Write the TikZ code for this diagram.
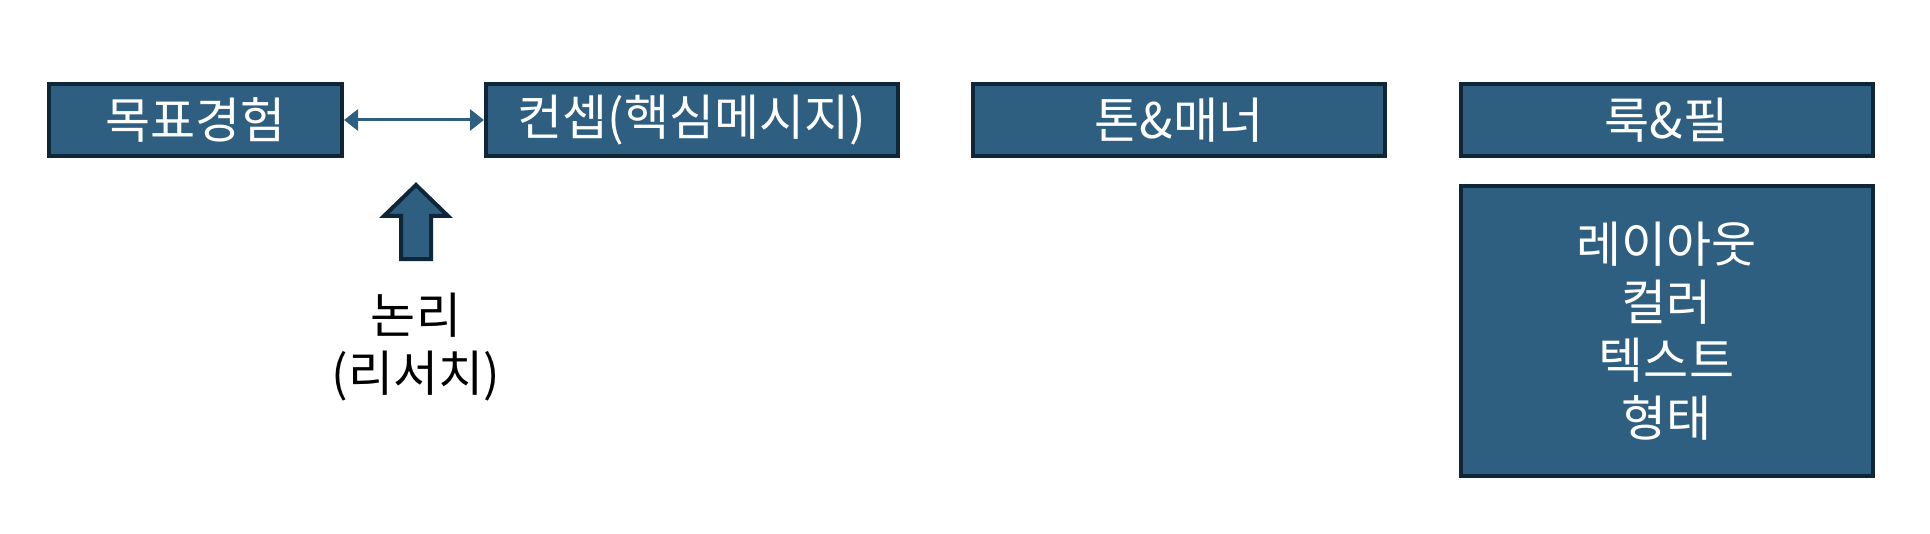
\documentclass[tikz,border=0pt]{standalone}
\usepackage{fontspec}
\setmainfont{Noto Sans CJK KR}
\usetikzlibrary{arrows.meta}

\definecolor{boxblue}{HTML}{2E5F80}
\definecolor{boxedge}{HTML}{0F2638}

\tikzset{
  stagebox/.style={draw=boxedge,line width=2pt,fill=boxblue,text=white,
    font=\fontsize{24.5}{29}\selectfont,inner sep=0pt,
    minimum width=206pt,minimum height=36pt},
  linktip/.style={{Triangle[length=7pt,width=10.5pt]}-{Triangle[length=7pt,width=10.5pt]}},
}

\begin{document}
\begin{tikzpicture}[x=0.5pt,y=-0.5pt]
  \useasboundingbox (0,0) rectangle (1930,534);
  % top row
  \node[stagebox,minimum width=146.5pt] (goal) at (195.5,120) {목표경험};
  \node[stagebox] (concept) at (692,120) {컨셉(핵심메시지)};
  \node[stagebox] (tone) at (1179,120) {톤\&매너};
  \node[stagebox] (look) at (1666.5,120) {룩\&필};
  \node[stagebox,minimum height=145pt,align=center] (lookitems) at (1666.5,331)
    {레이아웃\\컬러\\텍스트\\형태};
  \draw[linktip,boxblue,line width=1.5pt] (goal.east) -- (concept.west);
  % research arrow
  \coordinate (tip) at (416,185);
  \draw[boxedge,fill=boxblue,line width=2pt,line join=miter]
    (tip) -- ++(32,31) -- ++(-17,0) -- ++(0,43) -- ++(-30,0) -- ++(0,-43) -- ++(-17,0) -- cycle;
  \node[font=\fontsize{24.5}{29}\selectfont,align=center] (logic) at (416,347) {논리\\(리서치)};
\end{tikzpicture}
\end{document}
